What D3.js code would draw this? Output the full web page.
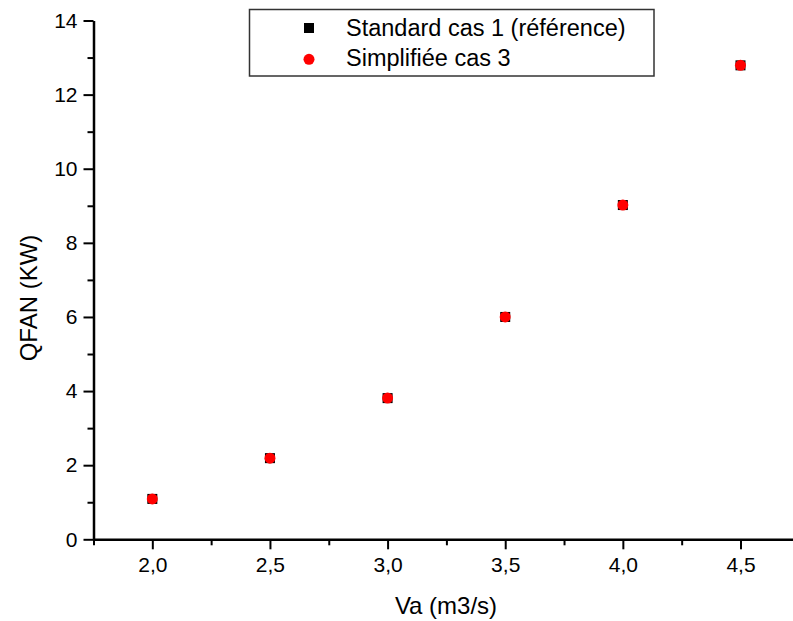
<!DOCTYPE html>
<html>
<head>
<meta charset="utf-8">
<script src="https://d3js.org/d3.v7.min.js"></script>
<style>
body { margin: 0; background: #fff; }
svg { display: block; font-family: "Liberation Sans", Arial, sans-serif; }
.axis path, .axis line { stroke: #000; }
.axis text { font-size: 21px; fill: #000; }
.title { font-size: 24px; fill: #000; }
.legend text { font-size: 23.5px; fill: #000; }
</style>
</head>
<body>
<svg id="chart" width="793" height="621"></svg>
<script>
// data
var va = [2.0, 2.5, 3.0, 3.5, 4.0, 4.5];
var standardCas1 = [1.09, 2.19, 3.81, 6.0, 9.02, 12.79];
var simplifieeCas3 = [1.09, 2.19, 3.81, 6.0, 9.02, 12.79];
var xTicks = [2.0, 2.5, 3.0, 3.5, 4.0, 4.5];
var xMinor = [1.75, 2.25, 2.75, 3.25, 3.75, 4.25, 4.75];
var yTicks = [0, 2, 4, 6, 8, 10, 12, 14];
var yMinor = [1, 3, 5, 7, 9, 11, 13];
var legendLabels = ["Standard cas 1 (référence)", "Simplifiée cas 3"];

var svg = d3.select("#chart");
var plotLeft = 93.5, plotTop = 20.5, plotBottom = 539.3;

var x = d3.scaleLinear().domain([1.75, 4.75]).range([plotLeft, 799.3]);
var y = d3.scaleLinear().domain([0, 14]).range([plotBottom, plotTop]);

var fmt = function(d){ return d3.format(".1f")(d).replace(".", ","); };

// minor ticks first
svg.append("g").attr("class", "axis")
    .attr("transform", "translate(0," + plotBottom + ")")
    .call(d3.axisBottom(x).tickValues(xMinor).tickSize(6).tickSizeOuter(0).tickFormat(""))
    .call(function(g){ g.select(".domain").remove(); })
    .selectAll("line").attr("stroke-width", 2);
svg.append("g").attr("class", "axis")
    .attr("transform", "translate(" + plotLeft + ",0)")
    .call(d3.axisLeft(y).tickValues(yMinor).tickSize(6).tickSizeOuter(0).tickFormat(""))
    .call(function(g){ g.select(".domain").remove(); })
    .selectAll("line").attr("stroke-width", 2);

// major axes
var gx = svg.append("g").attr("class", "axis")
    .attr("transform", "translate(0," + plotBottom + ")")
    .call(d3.axisBottom(x).tickValues(xTicks).tickSize(10).tickSizeOuter(0).tickPadding(8).tickFormat(fmt));
gx.select(".domain").attr("stroke-width", 2.5);
gx.selectAll("line").attr("stroke-width", 2);

var gy = svg.append("g").attr("class", "axis")
    .attr("transform", "translate(" + plotLeft + ",0)")
    .call(d3.axisLeft(y).tickValues(yTicks).tickSize(10).tickSizeOuter(0).tickPadding(6));
gy.select(".domain").attr("stroke-width", 2.5);
gy.selectAll("line").attr("stroke-width", 2);

// axis titles
svg.append("text").attr("class", "title")
    .attr("x", 446).attr("y", 614)
    .attr("text-anchor", "middle")
    .text("Va (m3/s)");
svg.append("text").attr("class", "title")
    .attr("transform", "translate(37,298) rotate(-90)")
    .attr("text-anchor", "middle")
    .text("QFAN (KW)");

// series
var sq = 10;
svg.append("g").selectAll("rect")
    .data(va)
    .join("rect")
    .attr("x", function(d){ return x(d) - sq / 2; })
    .attr("y", function(d, i){ return y(standardCas1[i]) - sq / 2; })
    .attr("width", sq).attr("height", sq)
    .attr("fill", "#000");
svg.append("g").selectAll("circle")
    .data(va)
    .join("circle")
    .attr("cx", function(d){ return x(d); })
    .attr("cy", function(d, i){ return y(simplifieeCas3[i]); })
    .attr("r", 5.5)
    .attr("fill", "#ff0000");

// legend
var lg = svg.append("g").attr("class", "legend");
lg.append("rect")
    .attr("x", 249.5).attr("y", 9.5)
    .attr("width", 404.5).attr("height", 66.5)
    .attr("fill", "#fff").attr("stroke", "#333").attr("stroke-width", 1.5);
lg.append("rect")
    .attr("x", 309 - sq / 2).attr("y", 28 - sq / 2)
    .attr("width", sq).attr("height", sq).attr("fill", "#000");
lg.append("circle")
    .attr("cx", 309).attr("cy", 59.3).attr("r", 5.5).attr("fill", "#ff0000");
lg.selectAll("text")
    .data(legendLabels)
    .join("text")
    .attr("x", 346)
    .attr("y", function(d, i){ return 36 + i * 30; })
    .text(function(d){ return d; });
</script>
</body>
</html>
